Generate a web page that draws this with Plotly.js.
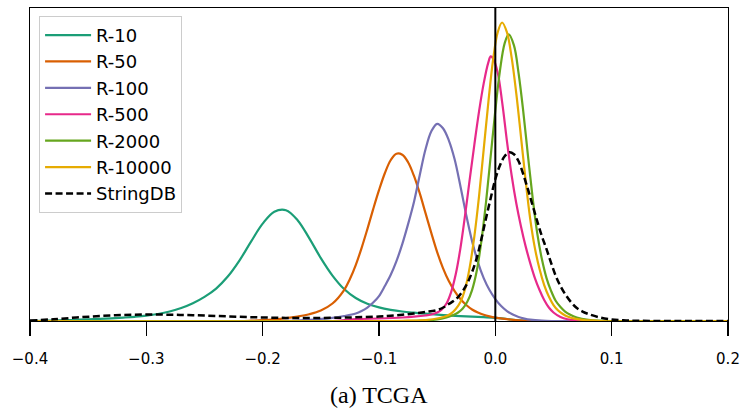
<!DOCTYPE html>
<html>
<head>
<meta charset="utf-8">
<script src="https://cdn.plot.ly/plotly-3.0.1.min.js"></script>
<style>html,body{margin:0;padding:0;background:#fff;}#chart{width:743px;height:412px;}</style>
</head>
<body>
<div id="chart"></div>
<script>
// Series names and colours
const seriesNames = ["R-10", "R-50", "R-100", "R-500", "R-2000", "R-10000", "StringDB"];
const seriesColors = ["#1b9e77", "#d95f02", "#7570b3", "#e7298a", "#66a61e", "#e6ab02", "#000000"];

// Density curves (x = value, y = density)
const r10X = [-0.4, -0.39, -0.38, -0.37, -0.36, -0.35, -0.34, -0.33, -0.32, -0.31, -0.30, -0.29, -0.28, -0.27, -0.26, -0.25, -0.24, -0.23, -0.22, -0.21, -0.20, -0.19, -0.18, -0.17, -0.16, -0.15, -0.14, -0.13, -0.12, -0.11, -0.10, -0.09, -0.08, -0.07, -0.06, -0.05, -0.04, -0.03, -0.02, -0.01, 0.0, 0.01, 0.02, 0.03, 0.04, 0.2];
const r10Y = [0, 0.02, 0.05, 0.08, 0.12, 0.16, 0.21, 0.27, 0.34, 0.42, 0.53, 0.7, 0.95, 1.3, 1.78, 2.42, 3.25, 4.45, 6.05, 7.95, 9.75, 10.95, 11.1, 10.1, 8.3, 6.3, 4.55, 3.2, 2.3, 1.72, 1.36, 1.12, 0.95, 0.83, 0.73, 0.64, 0.56, 0.49, 0.43, 0.38, 0.32, 0.2, 0.07, 0.01, 0, 0];

const r50X = [-0.4, -0.22, -0.21, -0.2, -0.19, -0.18, -0.17, -0.16, -0.15, -0.14, -0.13, -0.125, -0.12, -0.115, -0.11, -0.105, -0.1, -0.095, -0.09, -0.085, -0.08, -0.075, -0.07, -0.065, -0.06, -0.055, -0.05, -0.045, -0.04, -0.035, -0.03, -0.025, -0.02, -0.015, -0.01, -0.005, 0.0, 0.01, 0.02, 0.03, 0.04, 0.2];
const r50Y = [0, 0, 0.03, 0.08, 0.16, 0.28, 0.45, 0.68, 1.05, 1.75, 3.1, 4.2, 5.6, 7.3, 9.2, 11.2, 13.1, 14.8, 16.1, 16.75, 16.65, 15.9, 14.55, 12.8, 10.8, 8.8, 6.9, 5.3, 4.0, 3.0, 2.2, 1.6, 1.15, 0.85, 0.62, 0.46, 0.34, 0.18, 0.07, 0.01, 0, 0];

const r100X = [-0.4, -0.19, -0.18, -0.17, -0.16, -0.15, -0.14, -0.13, -0.12, -0.115, -0.11, -0.105, -0.1, -0.095, -0.09, -0.085, -0.08, -0.075, -0.07, -0.065, -0.06, -0.055, -0.05, -0.045, -0.04, -0.035, -0.03, -0.025, -0.02, -0.015, -0.01, -0.005, 0.0, 0.005, 0.01, 0.015, 0.02, 0.025, 0.03, 0.04, 0.05, 0.2];
const r100Y = [0, 0, 0.01, 0.05, 0.11, 0.2, 0.32, 0.5, 0.75, 1.0, 1.35, 1.85, 2.5, 3.5, 4.6, 6.0, 7.7, 9.7, 11.9, 14.6, 17.2, 19.0, 19.75, 19.3, 18.1, 16.2, 13.5, 10.6, 8.0, 5.9, 4.3, 3.1, 2.2, 1.5, 1.0, 0.65, 0.4, 0.24, 0.13, 0.03, 0, 0];

const r500X = [-0.4, -0.14, -0.12, -0.1, -0.08, -0.07, -0.06, -0.055, -0.05, -0.046, -0.042, -0.038, -0.034, -0.03, -0.026, -0.022, -0.018, -0.014, -0.01, -0.006, -0.004, -0.002, 0.002, 0.006, 0.01, 0.014, 0.018, 0.022, 0.026, 0.03, 0.034, 0.038, 0.042, 0.046, 0.05, 0.056, 0.062, 0.07, 0.08, 0.2];
const r500Y = [0, 0, 0.18, 0.25, 0.35, 0.43, 0.55, 0.65, 0.85, 1.15, 1.75, 2.9, 4.7, 7.3, 10.6, 14.2, 17.7, 21.0, 23.8, 25.9, 26.5, 26.3, 24.9, 21.8, 18.0, 14.6, 11.8, 9.5, 7.5, 5.8, 4.3, 3.1, 2.1, 1.35, 0.85, 0.4, 0.17, 0.05, 0, 0];

const r2000X = [-0.4, -0.08, -0.065, -0.05, -0.042, -0.036, -0.032, -0.028, -0.024, -0.02, -0.016, -0.012, -0.008, -0.004, 0.0, 0.004, 0.008, 0.0115, 0.016, 0.02, 0.024, 0.028, 0.032, 0.036, 0.04, 0.044, 0.048, 0.052, 0.056, 0.06, 0.064, 0.07, 0.08, 0.09, 0.1, 0.2];
const r2000Y = [0, 0, 0.04, 0.15, 0.35, 0.6, 0.85, 1.25, 1.95, 3.1, 5.0, 8.0, 11.9, 16.5, 21.1, 25.1, 27.8, 28.7, 27.6, 24.8, 21.0, 16.6, 12.4, 8.8, 6.2, 4.3, 3.0, 2.0, 1.4, 0.95, 0.65, 0.35, 0.12, 0.03, 0, 0];

const r10000X = [-0.4, -0.08, -0.06, -0.048, -0.042, -0.038, -0.034, -0.03, -0.026, -0.022, -0.018, -0.014, -0.01, -0.006, -0.002, 0.002, 0.0058, 0.01, 0.014, 0.018, 0.022, 0.026, 0.03, 0.034, 0.038, 0.042, 0.046, 0.05, 0.054, 0.058, 0.062, 0.07, 0.08, 0.09, 0.2];
const r10000Y = [0, 0.02, 0.1, 0.3, 0.5, 0.75, 1.2, 1.9, 3.2, 5.4, 8.5, 12.5, 17.2, 21.9, 26.1, 28.9, 29.9, 28.9, 26.4, 22.8, 18.5, 14.1, 10.2, 7.3, 5.2, 3.6, 2.45, 1.6, 1.05, 0.7, 0.45, 0.18, 0.06, 0, 0];

const stringX = [-0.4, -0.38, -0.36, -0.34, -0.32, -0.3, -0.28, -0.26, -0.24, -0.22, -0.2, -0.18, -0.16, -0.14, -0.12, -0.1, -0.09, -0.08, -0.07, -0.06, -0.05, -0.044, -0.04, -0.036, -0.032, -0.028, -0.024, -0.02, -0.016, -0.012, -0.008, -0.004, 0.0, 0.004, 0.008, 0.012, 0.016, 0.02, 0.024, 0.028, 0.032, 0.036, 0.04, 0.044, 0.048, 0.052, 0.056, 0.06, 0.065, 0.07, 0.075, 0.08, 0.09, 0.1, 0.11, 0.12, 0.14, 0.2];
const stringY = [0.05, 0.17, 0.35, 0.5, 0.6, 0.65, 0.63, 0.58, 0.5, 0.42, 0.35, 0.31, 0.3, 0.32, 0.37, 0.45, 0.52, 0.62, 0.75, 0.9, 1.1, 1.4, 1.7, 2.0, 2.4, 3.0, 3.8, 4.9, 6.3, 8.2, 10.3, 12.3, 14.2, 15.6, 16.5, 16.9, 16.7, 16.0, 14.7, 13.2, 11.6, 10.0, 8.5, 7.2, 5.8, 4.5, 3.5, 2.7, 1.9, 1.3, 0.95, 0.7, 0.35, 0.15, 0.07, 0.03, 0, 0];

// Axis ticks
const xTickVals = [-0.4, -0.3, -0.2, -0.1, 0.0, 0.1, 0.2];
const xTickText = ["\u22120.4", "\u22120.3", "\u22120.2", "\u22120.1", "0.0", "0.1", "0.2"];
const chartCaption = "(a) TCGA";

const xs = [r10X, r50X, r100X, r500X, r2000X, r10000X, stringX];
const ys = [r10Y, r50Y, r100Y, r500Y, r2000Y, r10000Y, stringY];

const traces = seriesNames.map((name, i) => ({
  x: xs[i], y: ys[i], name: name, type: "scatter", mode: "lines",
  line: {color: seriesColors[i], width: i === 6 ? 2.5 : 2.2, shape: "spline", smoothing: 1.0,
         dash: i === 6 ? "7px,3.5px" : "solid"},
  hoverinfo: "skip"
}));

const layout = {
  width: 743, height: 412,
  margin: {l: 30, r: 15, t: 8, b: 91},
  paper_bgcolor: "#ffffff", plot_bgcolor: "#ffffff",
  font: {family: "DejaVu Sans", color: "#000000"},
  showlegend: true,
  legend: {
    x: 0.013, y: 0.975, xanchor: "left", yanchor: "top",
    bgcolor: "rgba(255,255,255,0.85)", bordercolor: "#cccccc", borderwidth: 1,
    font: {family: "DejaVu Sans", size: 18, color: "#000000"},
    itemwidth: 46
  },
  xaxis: {
    range: [-0.4, 0.2], tickmode: "array", tickvals: xTickVals, ticktext: xTickText,
    ticks: "outside", ticklen: 14, tickwidth: 1.3, tickcolor: "#000000",
    ticklabelstandoff: 10,
    showline: true, linecolor: "#000000", linewidth: 1.3, mirror: true,
    showgrid: false, zeroline: false,
    tickfont: {family: "DejaVu Sans", size: 15, color: "#000000"}
  },
  yaxis: {
    range: [0, 31.35], showticklabels: false, ticks: "",
    showline: true, linecolor: "#000000", linewidth: 1.3, mirror: true,
    showgrid: false, zeroline: false
  },
  shapes: [{type: "line", xref: "x", yref: "paper", x0: 0, x1: 0, y0: 0, y1: 1,
            line: {color: "#000000", width: 2}, layer: "above"}],
  annotations: [{text: chartCaption, xref: "paper", yref: "paper", x: 0.5, y: -0.236,
                 xanchor: "center", yanchor: "middle", showarrow: false,
                 font: {family: "Liberation Serif", size: 24, color: "#000000"}}]
};

Plotly.newPlot("chart", traces, layout, {staticPlot: true, displayModeBar: false});
</script>
</body>
</html>
